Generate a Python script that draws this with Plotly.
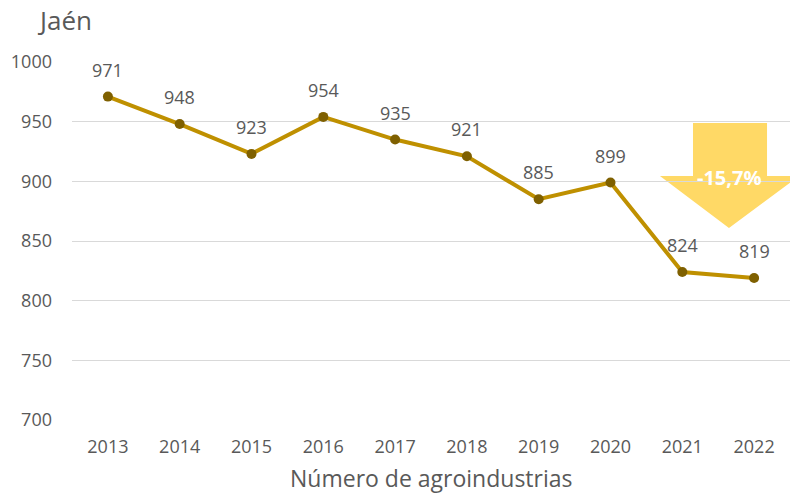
import plotly.graph_objects as go

years = ["2013", "2014", "2015", "2016", "2017", "2018", "2019", "2020", "2021", "2022"]
values = [971, 948, 923, 954, 935, 921, 885, 899, 824, 819]
y_ticks = [700, 750, 800, 850, 900, 950, 1000]
change_label = "-15,7%"
title_text = "Jaén"
x_title = "Número de agroindustrias"

FONT = "Open Sans"
TXT = "#595959"

# body margin is removed by post_script; figure fills the window
OFF = 0
W, H = 790 - OFF, 495 - OFF
L, R, T = 72 - OFF, 0, 62 - OFF
B = H - (420 - OFF)
pw, ph = W - L - R, H - T - B

def px(x):
    return (x - OFF - L) / pw

def py(y):
    return (H - B - (y - OFF)) / ph

fig = go.Figure()
fig.add_trace(go.Scatter(
    x=years, y=values, mode="lines+markers",
    line=dict(color="#BF9000", width=4),
    marker=dict(color="#7F6000", size=10),
    hoverinfo="skip", showlegend=False,
))

# arrow shape (paper coords)
pts = [(693, 123), (767, 123), (767, 176), (799, 176), (729, 228), (660, 176), (693, 176)]
path = "M " + " L ".join(f"{px(a):.4f},{py(b):.4f}" for a, b in pts) + " Z"
fig.add_shape(type="path", path=path, xref="paper", yref="paper",
              fillcolor="#FFD966", line=dict(width=0), layer="below")

annotations = []
for i, v in enumerate(values):
    annotations.append(dict(x=i, y=v, xref="x", yref="y", text=str(v), showarrow=False, yshift=27,
                            xanchor="center", yanchor="middle",
                            font=dict(family=FONT, size=18, color=TXT)))
annotations.append(dict(x=px(729), y=py(177), xref="paper", yref="paper", text=f"<b>{change_label}</b>",
                        xanchor="center", yanchor="middle",
                        showarrow=False, font=dict(family=FONT, size=20, color="white")))
annotations.append(dict(x=px(35), y=py(20), xref="paper", yref="paper", xanchor="left", yanchor="middle",
                        text=title_text, showarrow=False, font=dict(family=FONT, size=26, color=TXT)))
annotations.append(dict(x=px(431), y=py(478), xref="paper", yref="paper", text=x_title,
                        xanchor="center", yanchor="middle",
                        showarrow=False, font=dict(family=FONT, size=23, color=TXT)))

fig.update_layout(
    width=W, height=H,
    margin=dict(l=L, r=R, t=T, b=B, pad=0),
    paper_bgcolor="white", plot_bgcolor="white",
    font=dict(family=FONT, color=TXT),
    annotations=annotations,
    xaxis=dict(type="category", range=[-0.5, len(years) - 0.5], autorange=False,
               showgrid=False, showline=False, ticks="", ticklabelstandoff=14,
               tickfont=dict(size=18, color=TXT), fixedrange=True),
    yaxis=dict(range=[700, 1000], autorange=False, tickvals=y_ticks, showgrid=True,
               gridcolor="#D9D9D9", gridwidth=1.3,
               zeroline=False, showline=False, ticks="", ticklabelstandoff=19,
               tickfont=dict(size=18, color=TXT), fixedrange=True),
)
fig.write_html("out.html", config={"displayModeBar": False},
               post_script="document.body.style.margin='0';document.body.style.overflow='hidden';")
